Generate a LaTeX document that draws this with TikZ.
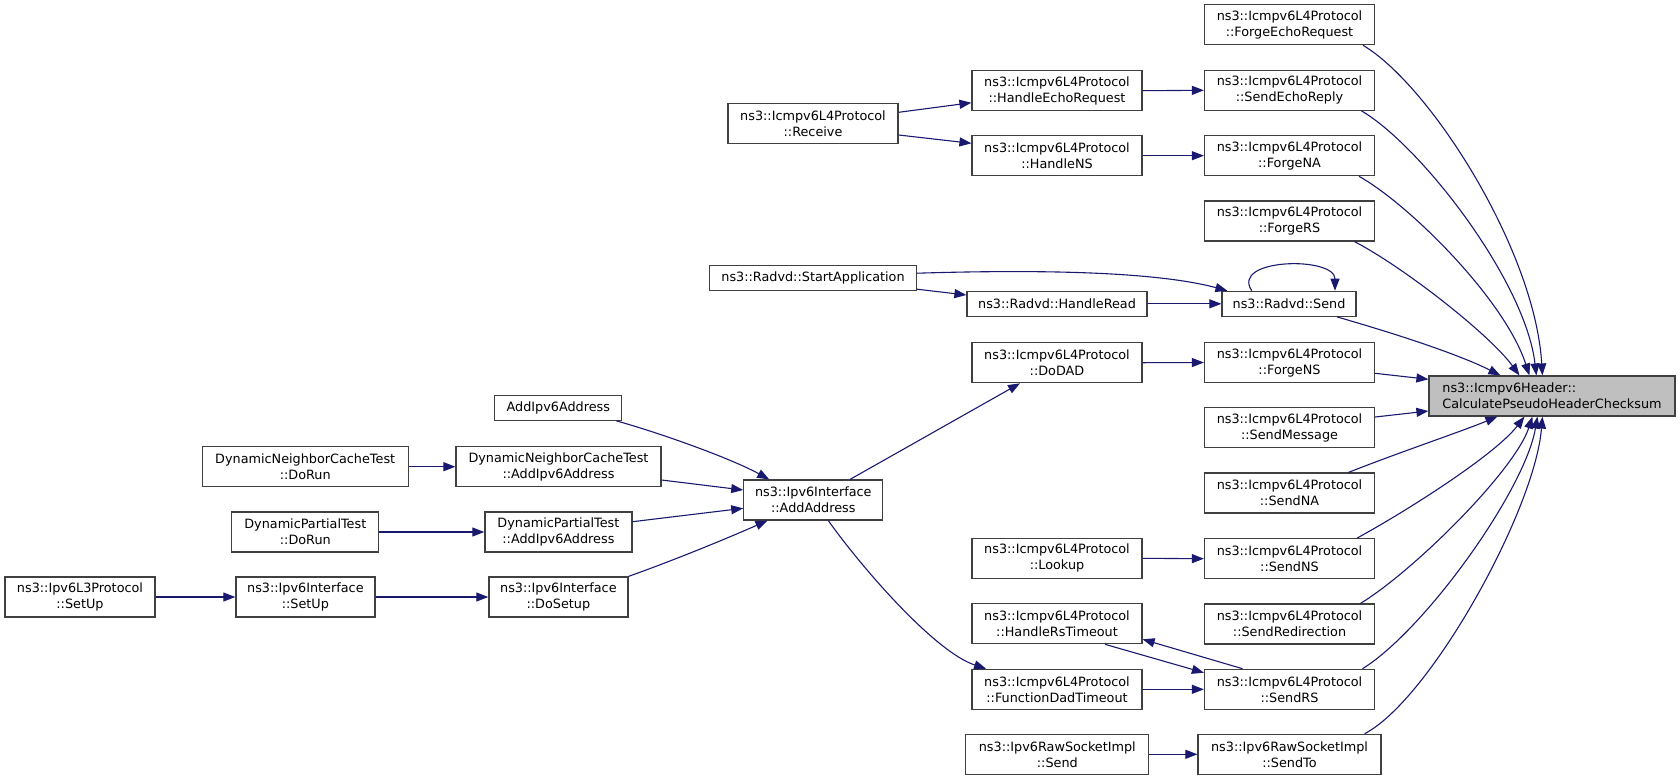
\documentclass[tikz,border=0pt]{standalone}
\usepackage{fontspec}
\setmainfont{DejaVu Sans}
\usetikzlibrary{arrows.meta}
\definecolor{edgeblue}{HTML}{191970}
\definecolor{boxline}{HTML}{404040}
\definecolor{hlfill}{HTML}{BFBFBF}
\tikzset{
  fn/.style={draw=boxline, line width=1.2pt, fill=white, inner sep=0pt, align=center,
    minimum height=40pt, font=\fontsize{12.8}{16}\selectfont},
  fn1/.style={fn, minimum height=25pt},
  w170/.style={minimum width=170pt},
  call/.style={draw=edgeblue, line width=1.1pt, -{Triangle[length=12pt,width=9pt]}},
}
\begin{document}
\begin{tikzpicture}[x=1pt,y=-1pt]
\useasboundingbox (0,0) rectangle (1680,780);
% column 7
\node[fn, fill=hlfill, minimum width=246pt, align=left] (chk) at (1552,396) {ns3::Icmpv6Header::\\CalculatePseudoHeaderChecksum};
% column 6
\node[fn,w170] (fer) at (1289.5,24.7) {ns3::Icmpv6L4Protocol\\::ForgeEchoRequest};
\node[fn,w170] (ser) at (1289.5,90.3) {ns3::Icmpv6L4Protocol\\::SendEchoReply};
\node[fn,w170] (fna) at (1289.5,155.7) {ns3::Icmpv6L4Protocol\\::ForgeNA};
\node[fn,w170] (frs) at (1289.5,221) {ns3::Icmpv6L4Protocol\\::ForgeRS};
\node[fn1, minimum width=134pt] (rsend) at (1289,303.8) {ns3::Radvd::Send};
\node[fn,w170] (fns) at (1289.5,362.5) {ns3::Icmpv6L4Protocol\\::ForgeNS};
\node[fn,w170] (smsg) at (1289.5,427.7) {ns3::Icmpv6L4Protocol\\::SendMessage};
\node[fn,w170] (sna) at (1289.5,493) {ns3::Icmpv6L4Protocol\\::SendNA};
\node[fn,w170] (sns) at (1289.5,558.7) {ns3::Icmpv6L4Protocol\\::SendNS};
\node[fn,w170] (sredir) at (1289.5,624) {ns3::Icmpv6L4Protocol\\::SendRedirection};
\node[fn,w170] (srs) at (1289.5,689.3) {ns3::Icmpv6L4Protocol\\::SendRS};
\node[fn, minimum width=183pt] (sto) at (1289.5,754.3) {ns3::Ipv6RawSocketImpl\\::SendTo};
% column 5
\node[fn,w170] (her) at (1057,90.7) {ns3::Icmpv6L4Protocol\\::HandleEchoRequest};
\node[fn,w170] (hns) at (1057,155.7) {ns3::Icmpv6L4Protocol\\::HandleNS};
\node[fn1, minimum width=180pt] (hread) at (1057,303.8) {ns3::Radvd::HandleRead};
\node[fn,w170] (dodad) at (1057,362.7) {ns3::Icmpv6L4Protocol\\::DoDAD};
\node[fn,w170] (lookup) at (1057,558.3) {ns3::Icmpv6L4Protocol\\::Lookup};
\node[fn,w170] (hrst) at (1057,623.7) {ns3::Icmpv6L4Protocol\\::HandleRsTimeout};
\node[fn,w170] (fdt) at (1057,689.3) {ns3::Icmpv6L4Protocol\\::FunctionDadTimeout};
\node[fn, minimum width=183pt] (rawsend) at (1057.3,754.3) {ns3::Ipv6RawSocketImpl\\::Send};
% column 4
\node[fn,w170] (recv) at (813,123.7) {ns3::Icmpv6L4Protocol\\::Receive};
\node[fn1, minimum width=207pt] (startapp) at (813,278.2) {ns3::Radvd::StartApplication};
\node[fn, minimum width=139pt] (addaddr) at (813.3,500) {ns3::Ipv6Interface\\::AddAddress};
% column 3
\node[fn1, minimum width=127pt] (addipv6) at (558.3,407.8) {AddIpv6Address};
\node[fn, minimum width=205pt] (dnctadd) at (558.5,466.7) {DynamicNeighborCacheTest\\::AddIpv6Address};
\node[fn, minimum width=147pt] (dptadd) at (558.4,532) {DynamicPartialTest\\::AddIpv6Address};
\node[fn, minimum width=139pt] (dosetup) at (558.4,597) {ns3::Ipv6Interface\\::DoSetup};
% column 2
\node[fn, minimum width=206pt] (dnctrun) at (305.2,466.7) {DynamicNeighborCacheTest\\::DoRun};
\node[fn, minimum width=147pt] (dptrun) at (305.3,532) {DynamicPartialTest\\::DoRun};
\node[fn, minimum width=139pt] (ifsetup) at (305.4,597) {ns3::Ipv6Interface\\::SetUp};
% column 1
\node[fn, minimum width=150pt] (l3setup) at (80,597) {ns3::Ipv6L3Protocol\\::SetUp};

% edges into checksum, from above
\draw[call] ([xshift=73.5pt]fer.south) .. controls (1430,85) and (1535,250) .. ([xshift=114pt]chk.north west);
\draw[call] ([xshift=72pt]ser.south) .. controls (1420,145) and (1525,280) .. ([xshift=108pt]chk.north west);
\draw[call] ([xshift=69.5pt]fna.south) .. controls (1410,205) and (1505,300) .. ([xshift=101pt]chk.north west);
\draw[call] ([xshift=65pt]frs.south) .. controls (1405,268) and (1490,335) .. ([xshift=91pt]chk.north west);
\draw[call] ([xshift=48pt]rsend.south) .. controls (1400,335) and (1460,355) .. ([xshift=72pt]chk.north west);
\draw[call] ([yshift=-10.8pt]fns.east) -- ([yshift=16.7pt]chk.west);
\draw[call] ([yshift=10.7pt]smsg.east) -- ([yshift=-15pt]chk.west);
\draw[call] ([xshift=59pt]sna.north) .. controls (1400,452) and (1460,432) .. ([xshift=69pt]chk.south west);
\draw[call] ([xshift=67.5pt]sns.north) .. controls (1405,512) and (1495,455) .. ([xshift=96pt]chk.south west);
\draw[call] ([xshift=71pt]sredir.north) .. controls (1415,570) and (1515,470) .. ([xshift=104pt]chk.south west);
\draw[call] ([xshift=73pt]srs.north) .. controls (1425,630) and (1525,490) .. ([xshift=109pt]chk.south west);
\draw[call] ([xshift=75pt]sto.north) .. controls (1430,700) and (1535,510) .. ([xshift=114pt]chk.south west);

% straight calls
\draw[call] (her.east) -- (ser.west);
\draw[call] (hns.east) -- (fna.west);
\draw[call] (hread.east) -- (rsend.west);
\draw[call] (dodad.east) -- (fns.west);
\draw[call] (lookup.east) -- (sns.west);
\draw[call] (fdt.east) -- (srs.west);
\draw[call] (rawsend.east) -- (sto.west);
\draw[call] (dnctrun.east) -- (dnctadd.west);
\draw[call] (dptrun.east) -- (dptadd.west);
\draw[call] (l3setup.east) -- (ifsetup.west);
\draw[call] (ifsetup.east) -- (dosetup.west);

% Receive
\draw[call] ([yshift=11.4pt]recv.east) -- ([yshift=-12pt]her.west);
\draw[call] ([yshift=-11.3pt]recv.east) -- ([yshift=12.4pt]hns.west);

% Radvd
\draw[call] ([yshift=5pt]startapp.east) .. controls (1020,270) and (1150,270) .. ([xshift=6pt]rsend.north west);
\draw[call] ([yshift=-11pt]startapp.east) -- ([yshift=8.8pt]hread.west);
\draw[call] ([xshift=-37.3pt]rsend.north) .. controls (1230,258) and (1335,256) .. ([xshift=46pt]rsend.north);

% RS timeout pair
\draw[call] ([xshift=48pt]hrst.south) -- ([yshift=-4pt]srs.north west);
\draw[call] ([xshift=38.6pt]srs.north west) -- ([yshift=-15.6pt]hrst.east);

% AddAddress
\draw[call] ([xshift=36.7pt]addaddr.north) -- ([xshift=-37pt]dodad.south);
\draw[call] ([xshift=15pt]addaddr.south) .. controls (862,568) and (935,652) .. ([xshift=14.7pt]fdt.north west);
\draw[call] ([xshift=-6pt]addipv6.south east) .. controls (660,433) and (730,458) .. ([xshift=26pt]addaddr.north west);
\draw[call] ([yshift=-13.3pt]dnctadd.east) -- ([yshift=10pt]addaddr.west);
\draw[call] ([yshift=10.3pt]dptadd.east) -- ([yshift=-8.3pt]addaddr.west);
\draw[call] (dosetup.north east) .. controls (680,558) and (730,537) .. ([xshift=24.3pt]addaddr.south west);
\end{tikzpicture}
\end{document}
